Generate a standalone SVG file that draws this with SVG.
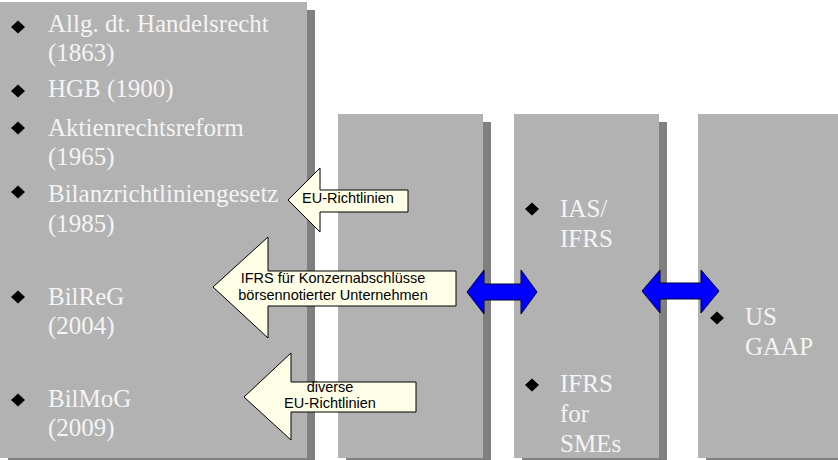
<svg xmlns="http://www.w3.org/2000/svg" width="838" height="460" viewBox="0 0 838 460">
<style>
.box{fill:#B2B2B2}
.shd{fill:#808080}
.t{font-family:"Liberation Serif","Times New Roman",serif;font-size:25px;fill:#F4F4F4}
.ya{fill:#FFFFE8;stroke:#000;stroke-width:1}
.yt{font-family:"Liberation Sans",Arial,sans-serif;font-size:14.5px;fill:#000;text-anchor:middle}
.ba{fill:#0000FF;stroke:#000033;stroke-width:1}
</style>
<defs>
<polygon id="dia" points="0,-6.5 7,0 0,6.5 -7,0"/>
</defs>
<g id="hgb">
<rect class="shd" x="8" y="10" width="307" height="456"/>
<rect class="box" x="0" y="2" width="307" height="456"/>
<use href="#dia" x="18" y="27"/>
<text class="t" x="48" y="32">Allg. dt. Handelsrecht</text>
<text class="t" x="48" y="61">(1863)</text>
<use href="#dia" x="18" y="91"/>
<text class="t" x="48" y="97">HGB (1900)</text>
<use href="#dia" x="18" y="128"/>
<text class="t" x="48" y="136">Aktienrechtsreform</text>
<text class="t" x="48" y="165">(1965)</text>
<use href="#dia" x="18" y="192"/>
<text class="t" x="48" y="202">Bilanzrichtliniengesetz</text>
<text class="t" x="48" y="232">(1985)</text>
<use href="#dia" x="18" y="297"/>
<text class="t" x="48" y="305">BilReG</text>
<text class="t" x="48" y="334">(2004)</text>
<use href="#dia" x="18" y="400"/>
<text class="t" x="48" y="407">BilMoG</text>
<text class="t" x="48" y="436">(2009)</text>
</g>
<g id="eu">
<rect class="shd" x="346" y="122" width="145" height="344"/>
<rect class="box" x="338" y="114" width="145" height="344"/>
</g>
<g id="ifrs">
<rect class="shd" x="522" y="122" width="145" height="344"/>
<rect class="box" x="514" y="114" width="145" height="344"/>
<use href="#dia" x="532" y="209"/>
<text class="t" x="560" y="217">IAS/</text>
<text class="t" x="560" y="247">IFRS</text>
<use href="#dia" x="532" y="385"/>
<text class="t" x="560" y="392">IFRS</text>
<text class="t" x="560" y="422">for</text>
<text class="t" x="560" y="452">SMEs</text>
</g>
<g id="usgaap">
<rect class="shd" x="706" y="122" width="145" height="344"/>
<rect class="box" x="698" y="114" width="145" height="344"/>
<use href="#dia" x="717" y="318"/>
<text class="t" x="745" y="325">US</text>
<text class="t" x="745" y="355">GAAP</text>
</g>
<g id="connectors">
<g id="arrow-eu">
<polygon class="ya" points="288,200 320,168 320,190 408,190 408,212 320,212 320,232"/>
<text class="yt" x="348" y="203">EU-Richtlinien</text>
</g>
<g id="arrow-ifrs">
<polygon class="ya" points="213,287 268,237 268,271 456,271 456,306 268,306 268,338"/>
<text class="yt" x="333" y="283">IFRS für Konzernabschlüsse</text>
<text class="yt" x="333" y="300">börsennotierter Unternehmen</text>
</g>
<g id="arrow-diverse">
<polygon class="ya" points="244,397 291,353 291,382 416,382 416,412 291,412 291,440"/>
<text class="yt" x="330" y="392">diverse</text>
<text class="yt" x="330" y="408">EU-Richtlinien</text>
</g>
<polygon class="ba" points="467,292 484,270 484,284 521,284 521,270 537,292 521,314 521,300 484,300 484,314"/>
<polygon class="ba" points="642,291 660,270 660,283 701,283 701,270 719,291 701,313 701,299 660,299 660,313"/>
</g>
</svg>
